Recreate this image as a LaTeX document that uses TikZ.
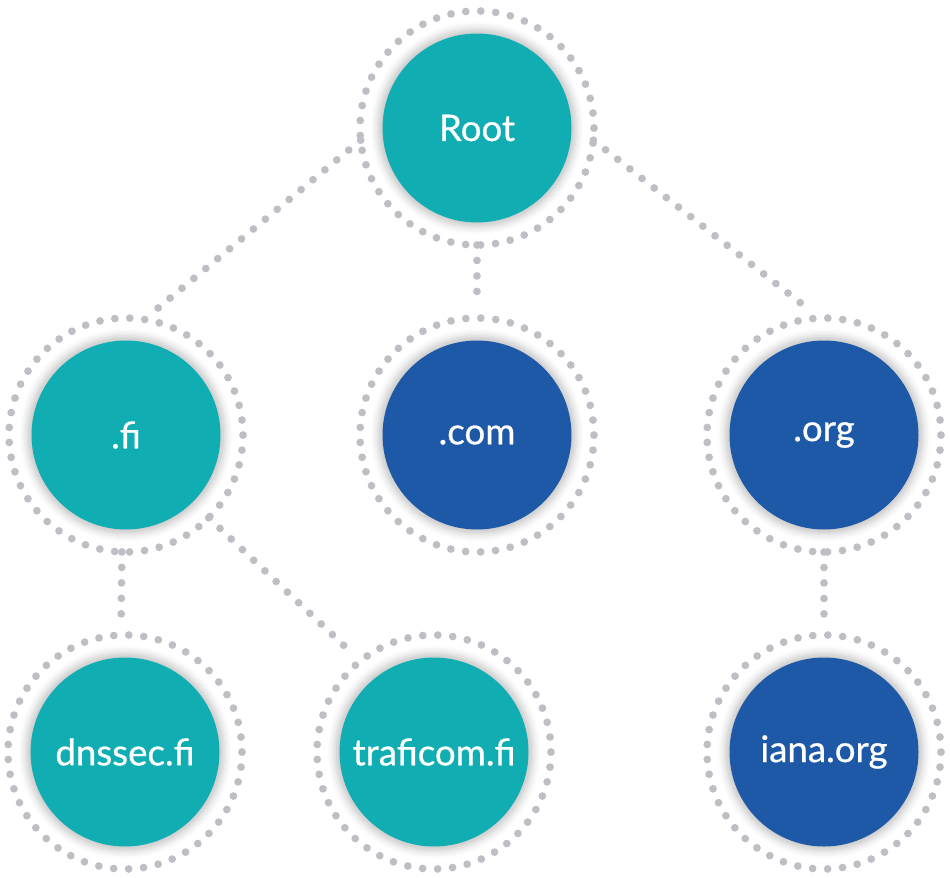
\documentclass[tikz,border=0pt]{standalone}
\usepackage{fontspec}
\setmainfont{Lato}
\newfontfamily\labelfont[FakeBold=0.6]{Lato}
\usepackage{tikz}
\usetikzlibrary{shadows.blur,positioning}
\definecolor{dnsteal}{HTML}{10AEB2}
\definecolor{dnsblue}{HTML}{1E59A8}
\definecolor{dotgray}{HTML}{BEBEC4}

\begin{document}
\begin{tikzpicture}[x=0.75pt,y=-0.75pt,
    ring/.style={circle,draw=dotgray,line width=5.8pt,line cap=round,
        dash pattern=on 0pt off 11.25pt,minimum size=175.5pt,inner sep=0pt,outer sep=0pt},
    disc/.style={circle,fill=#1,text=white,minimum size=141.75pt,inner sep=0pt,
        font=\labelfont\fontsize{27.5pt}{30pt}\selectfont,
        blur shadow={shadow xshift=0pt,shadow yshift=0pt,shadow blur radius=5pt,
            shadow opacity=22,shadow scale=1.05}},
    link/.style={draw=dotgray,line width=5.8pt,line cap=round,
        dash pattern=on 0pt off 11.6pt,shorten >=11pt}]
    \useasboundingbox (0,0) rectangle (950,878);

    \node[ring] (root) at (477,128) {};
    \node[ring] (fi) at (126,435) {};
    \node[ring] (com) at (477,435) {};
    \node[ring] (org) at (824,435) {};
    \node[ring] (dnssec) at (125,752) {};
    \node[ring] (traficom) at (434,752) {};
    \node[ring] (iana) at (824,752) {};

    \node[disc=dnsteal] (root-disc) at (root) {Root};
    \node[disc=dnsteal] (fi-disc) at (fi) {.fi};
    \node[disc=dnsblue] (com-disc) at (com) {.com};
    \node[disc=dnsblue] (org-disc) at (org) {.org};
    \node[disc=dnsteal] (dnssec-disc) at (dnssec) {dnssec.fi};
    \node[disc=dnsteal] (traficom-disc) at (traficom) {traficom.fi};
    \node[disc=dnsblue] (iana-disc) at (iana) {iana.org};

    \draw[link] (root.186) -- (fi.81);
    \draw[link] (root.south) -- (com.north);
    \draw[link] (root.354) -- (org.92);
    \draw[link] (fi.268) -- (dnssec.92);
    \draw[link,shorten >=6pt] (fi.315) -- (traficom.129);
    \draw[link] (org.south) -- (iana.north);
\end{tikzpicture}
\end{document}
